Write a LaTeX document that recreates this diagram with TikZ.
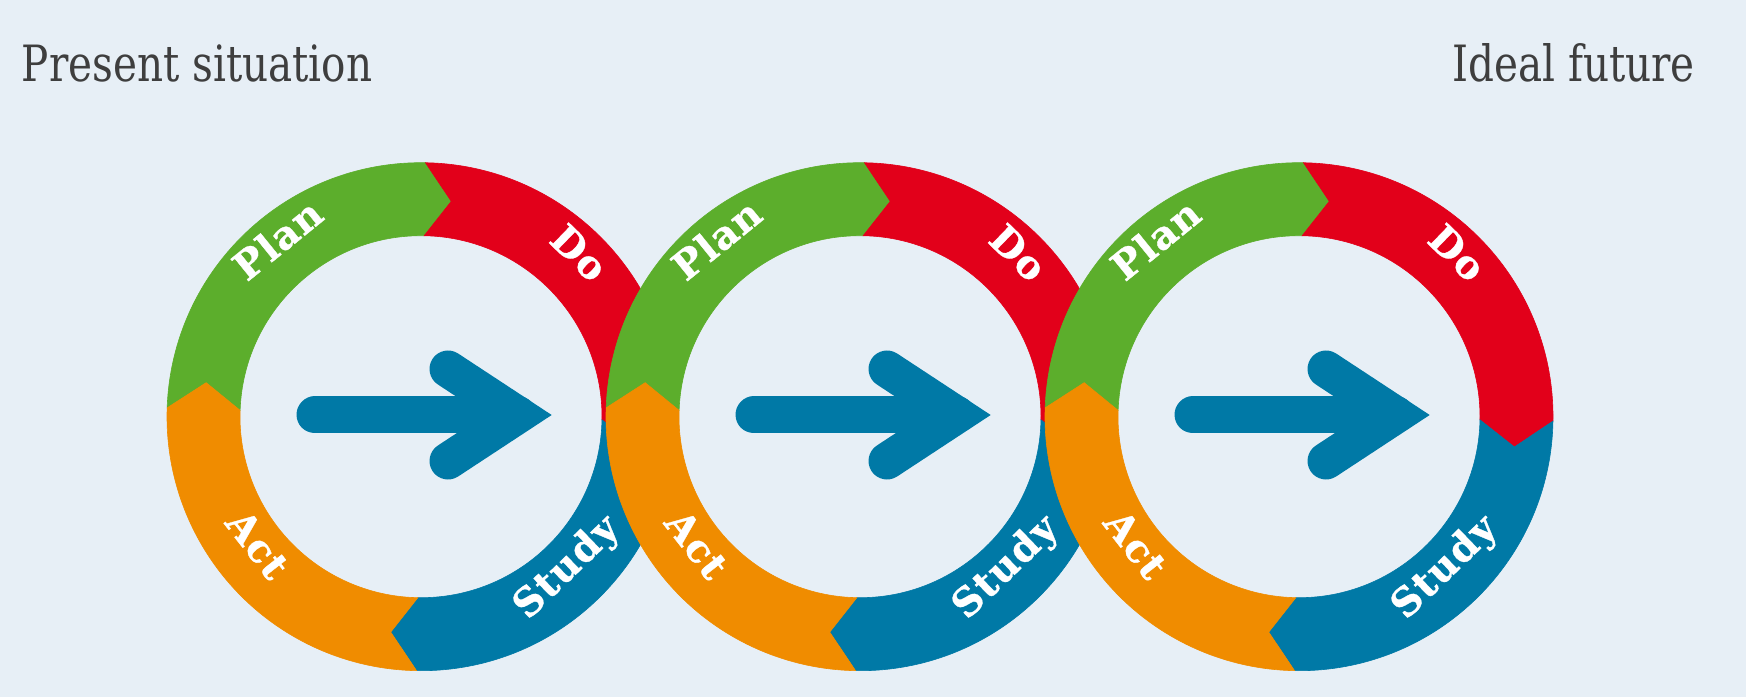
\documentclass[tikz,border=0pt]{standalone}
\usepackage{fontspec}
\newfontfamily\titlefont[FakeStretch=0.81]{DejaVu Serif}
\newfontfamily\labfont[LetterSpace=3,FakeBold=0.8]{DejaVu Serif Bold}
\definecolor{bg}{HTML}{E7EFF6}
\definecolor{pdgreen}{HTML}{5CAE2C}
\definecolor{pdred}{HTML}{E2001A}
\definecolor{pdorange}{HTML}{F08C00}
\definecolor{pdblue}{HTML}{0079A6}
\definecolor{titlegray}{HTML}{3E3E3E}
\newcommand\Ro{254pt}
\newcommand\Ri{181pt}
\newcommand\Rm{217.5pt}
\newcommand\dl{7}
\newcommand\ringseg[3]{%
  \fill[#1, draw=#1, line width=0.6pt] (#2:\Ro) arc[start angle=#2, end angle=#3, radius=\Ro]
    -- ({#3-\dl}:\Rm) -- (#3:\Ri) arc[start angle=#3, end angle=#2, radius=\Ri]
    -- ({#2-\dl}:\Rm) -- cycle;}
\tikzset{
  titletext/.style={text=titlegray, font=\titlefont\fontsize{50}{60}\selectfont, inner sep=0pt},
  ringlabel/.style={text=white, font=\labfont\fontsize{39}{44}\selectfont, inner sep=0pt,
    text height=0.73em, text depth=0pt, anchor=center},
  bigarrow/.style={draw=pdblue, line width=37pt, line cap=round, line join=miter}
}
\begin{document}
\begin{tikzpicture}[x=1pt,y=1pt]
\fill[bg] (0,0) rectangle (1746,697);
\node[titletext, anchor=base west] (present) at (21.7,615.3) {Present situation};
\node[titletext, anchor=base east] (ideal) at (1695,615.3) {Ideal future};
\foreach \cx/\nm in {421/a,860/b,1299/c}{
  \begin{scope}[shift={(\cx,280.3)}]
    \ringseg{pdgreen}{178}{89}
    \ringseg{pdred}{89}{-1}
    \ringseg{pdblue}{-1}{-91}
    \ringseg{pdorange}{-91}{-182}
    \node[ringlabel, rotate=39] (plan-\nm) at (129:\Rm) {Plan};
    \node[ringlabel, rotate=-44] (do-\nm) at (46:\Rm) {Do};
    \node[ringlabel, rotate=-52] (act-\nm) at (218:\Rm) {Act};
    \node[ringlabel, rotate=44] (study-\nm) at (-46:\Rm) {Study};
    \coordinate (tail-\nm) at (-106,1.7);
    \coordinate (head-\nm) at (97,1.7);
    \coordinate (barbup-\nm) at (27,47.7);
    \coordinate (barbdn-\nm) at (27,-44.3);
    \draw[bigarrow] (tail-\nm) -- (head-\nm);
    \draw[bigarrow] (barbup-\nm) -- (head-\nm) -- (barbdn-\nm);
  \end{scope}
}
\end{tikzpicture}
\end{document}
